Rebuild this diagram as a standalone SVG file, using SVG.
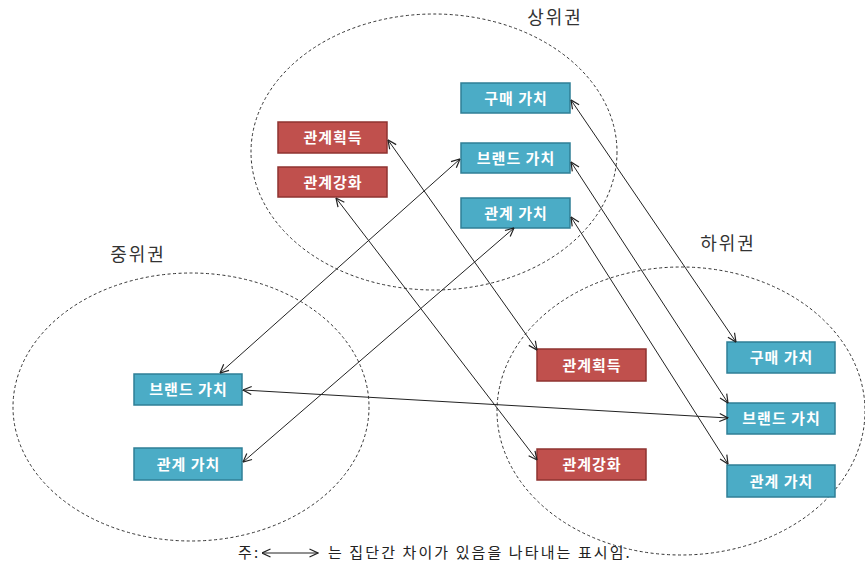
<svg xmlns="http://www.w3.org/2000/svg" width="865" height="567" viewBox="0 0 865 567">
<style>
.bg{fill:#fff}
.grp{fill:none;stroke:#333;stroke-width:1;stroke-dasharray:3 2.5}
.b rect{fill:#4BACC6;stroke:#2f7f96;stroke-width:1.5}
.r rect{fill:#C0504D;stroke:#8f3331;stroke-width:1.5}
.n text{font-family:"Noto Sans CJK KR","Noto Sans",sans-serif;font-size:15px;font-weight:bold;fill:#fff;text-anchor:middle;letter-spacing:1px}
.lbl{font-family:"Noto Sans CJK KR","Noto Sans",sans-serif;font-size:18px;fill:#333;letter-spacing:2px}
.note{font-family:"Noto Sans CJK KR","Noto Sans",sans-serif;font-size:15px;fill:#222;letter-spacing:2.1px}
.c line{stroke:#222;stroke-width:1;marker-start:url(#a);marker-end:url(#a)}
</style>
<defs>
<marker id="a" viewBox="0 0 10 10" refX="9.5" refY="5" markerWidth="10" markerHeight="10" markerUnits="userSpaceOnUse" orient="auto-start-reverse">
<path d="M1,1 L9.5,5 L1,9" fill="none" stroke="#222" stroke-width="1.2"/>
</marker>
</defs>
<rect class="bg" width="865" height="567"/>
<g id="groups">
<ellipse class="grp" cx="434" cy="152" rx="183" ry="138"/>
<ellipse class="grp" cx="191" cy="407" rx="178" ry="134"/>
<ellipse class="grp" cx="681" cy="411" rx="184" ry="144"/>
</g>
<text class="lbl" x="555" y="24" text-anchor="middle">상위권</text>
<text class="lbl" x="138" y="261" text-anchor="middle">중위권</text>
<text class="lbl" x="728" y="250" text-anchor="middle">하위권</text>
<g id="top-purchase" class="n b"><rect x="461" y="83" width="109" height="30"/><text x="516" y="103.5">구매 가치</text></g>
<g id="top-brand" class="n b"><rect x="461" y="143" width="109" height="30"/><text x="516" y="163.5">브랜드 가치</text></g>
<g id="top-relation" class="n b"><rect x="461" y="198" width="109" height="30"/><text x="516" y="218.5">관계 가치</text></g>
<g id="top-acquire" class="n r"><rect x="278" y="122" width="109" height="31"/><text x="333" y="143">관계획득</text></g>
<g id="top-strengthen" class="n r"><rect x="278" y="167" width="109" height="30"/><text x="333" y="187.5">관계강화</text></g>
<g id="mid-brand" class="n b"><rect x="134" y="374" width="108" height="31"/><text x="188.5" y="395">브랜드 가치</text></g>
<g id="mid-relation" class="n b"><rect x="134" y="448" width="108" height="32"/><text x="188.5" y="469.5">관계 가치</text></g>
<g id="low-acquire" class="n r"><rect x="537" y="349" width="109" height="32"/><text x="592" y="370.5">관계획득</text></g>
<g id="low-strengthen" class="n r"><rect x="537" y="449" width="109" height="31"/><text x="592" y="470">관계강화</text></g>
<g id="low-purchase" class="n b"><rect x="727" y="342" width="108" height="31"/><text x="781.5" y="363">구매 가치</text></g>
<g id="low-brand" class="n b"><rect x="727" y="403" width="108" height="31"/><text x="781.5" y="424">브랜드 가치</text></g>
<g id="low-relation" class="n b"><rect x="727" y="465" width="108" height="32"/><text x="781.5" y="486.5">관계 가치</text></g>
<g id="connectors" class="c">
<line x1="571" y1="100" x2="736" y2="342"/>
<line x1="571" y1="162" x2="728" y2="403"/>
<line x1="571" y1="217" x2="728" y2="464"/>
<line x1="388" y1="140" x2="537" y2="350"/>
<line x1="336" y1="198" x2="537" y2="460"/>
<line x1="460" y1="159" x2="220" y2="373"/>
<line x1="514" y1="228" x2="243" y2="462"/>
<line x1="243" y1="390" x2="728" y2="418"/>
</g>
<g id="legend">
<text class="note" x="238" y="558" letter-spacing="0">주:</text>
<line x1="262" y1="553" x2="318" y2="553" stroke="#222" stroke-width="1" marker-start="url(#a)" marker-end="url(#a)"/>
<text class="note" x="328" y="558">는 집단간 차이가 있음을 나타내는 표시임.</text>
</g>
</svg>
